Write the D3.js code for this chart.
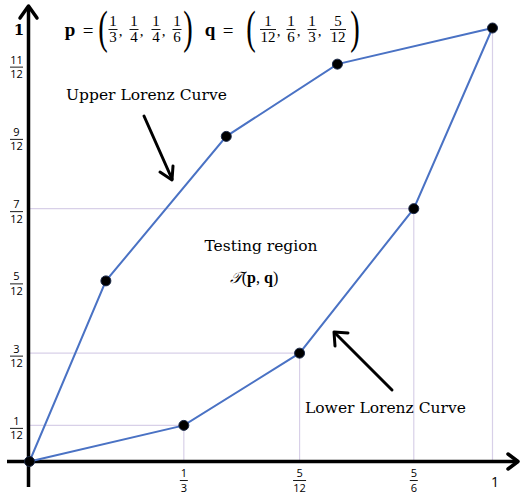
<!DOCTYPE html>
<html><head><meta charset="utf-8">
<script src="https://cdn.jsdelivr.net/npm/d3@7"></script>
<style>
html,body{margin:0;padding:0;background:#fff;}
svg{display:block;}
</style></head>
<body>
<script>
// ---- data ----
const upperX = [0, 0.165, 0.425, 0.665, 1];
const upperY = [0, 5/12, 9/12, 11/12, 1];
const lowerX = [0, 1/3, 7/12, 0.83, 1];
const lowerY = [0, 1/12, 3/12, 7/12, 1];
const xTickValues = [1/3, 7/12, 0.83];
const xTickNums = ["1", "5", "5"];
const xTickDens = ["3", "12", "6"];
const yTickValues = [1/12, 3/12, 5/12, 7/12, 9/12, 11/12];
const yTickNums = ["1", "3", "5", "7", "9", "11"];
const yTickDens = ["12", "12", "12", "12", "12", "12"];
const pNums = ["1","1","1","1"], pDens = ["3","4","4","6"];
const qNums = ["1","1","1","5"], qDens = ["12","6","3","12"];

const W = 520, H = 495;
const svg = d3.select("body").append("svg").attr("width", W).attr("height", H);
const x = d3.scaleLinear().domain([0,1]).range([29.5, 492.5]);
const y = d3.scaleLinear().domain([0,1]).range([461.5, 28]);

const grid = "#d8d0e8";
const blue = "#4a72c4";
const serif = "'DejaVu Serif', serif";
const mserif = "'Liberation Serif', serif";
const sans = "'Open Sans', 'Liberation Sans', sans-serif";

const upper = upperX.map((v,i)=>[v, upperY[i]]);
const lower = lowerX.map((v,i)=>[v, lowerY[i]]);

// gridlines from lower curve points
const g = svg.append("g");
lower.slice(1).forEach((d,i,arr)=>{
  g.append("line").attr("x1", x(d[0])).attr("x2", x(d[0]))
    .attr("y1", y(d[1])).attr("y2", y(0)).attr("stroke", grid).attr("stroke-width", 1.2);
  if (i < arr.length-1) {
    g.append("line").attr("x1", x(0)).attr("x2", x(d[0]))
      .attr("y1", y(d[1])).attr("y2", y(d[1])).attr("stroke", grid).attr("stroke-width", 1.2);
  }
});

// axes
const ax = svg.append("g").attr("stroke", "#000").attr("stroke-width", 3.5).attr("fill", "none")
  .attr("stroke-linecap", "round").attr("stroke-linejoin", "round");
ax.append("line").attr("x1", 7).attr("x2", 518).attr("y1", y(0)).attr("y2", y(0)).attr("stroke-linecap","butt");
ax.append("path").attr("d", `M${508},${y(0)-7.5} L${518},${y(0)} L${508},${y(0)+7.5}`);
ax.append("line").attr("x1", x(0)-1).attr("x2", x(0)-1).attr("y1", 487).attr("y2", 7).attr("stroke-linecap","butt");
ax.append("path").attr("d", `M${x(0)-9.5},${18} L${x(0)-1},${6} L${x(0)+7.5},${18}`);

// curves
const line = d3.line().x(d=>x(d[0])).y(d=>y(d[1]));
svg.append("path").datum(upper).attr("d", line).attr("fill","none").attr("stroke", blue).attr("stroke-width", 2);
svg.append("path").datum(lower).attr("d", line).attr("fill","none").attr("stroke", blue).attr("stroke-width", 2);

const pts = upper.concat(lower.slice(1, lower.length-1));
svg.append("g").selectAll("circle").data(pts).join("circle")
  .attr("cx", d=>x(d[0])).attr("cy", d=>y(d[1])).attr("r", 5)
  .attr("fill", "#000").attr("stroke", "#1c2a4a").attr("stroke-width", 1);

// fraction helper
function frac(gr, cx, barY, num, den, size, font, numOff, denOff, barW) {
  gr.append("text").attr("x", cx).attr("y", barY - numOff).attr("text-anchor","middle")
    .attr("font-family", font).attr("font-size", size).text(num);
  gr.append("text").attr("x", cx).attr("y", barY + denOff).attr("text-anchor","middle")
    .attr("font-family", font).attr("font-size", size).text(den);
  const bw = barW || Math.max(num.length, den.length) * size * 0.58 + 2;
  gr.append("line").attr("x1", cx - bw/2).attr("x2", cx + bw/2).attr("y1", barY).attr("y2", barY)
    .attr("stroke", "#000").attr("stroke-width", 0.9);
}

// y tick labels
const yl = svg.append("g").attr("fill", "#000");
yTickValues.forEach((v,i)=>{
  frac(yl, 16.5, y(v) + 3, yTickNums[i], yTickDens[i], 11, sans, 3.5, 11, 13);
});
yl.append("text").attr("x", 19).attr("y", y(1) + 7).attr("text-anchor","middle")
  .attr("font-family", serif).attr("font-weight","bold").attr("font-size", 15).text("1");

// x tick labels
const xl = svg.append("g");
xTickValues.forEach((v,i)=>{
  frac(xl, x(v), 480.5, xTickNums[i], xTickDens[i], 11, sans, 3.5, 11, xTickDens[i].length > 1 ? 13 : 8);
});
xl.append("text").attr("x", 495).attr("y", 487).attr("text-anchor","middle")
  .attr("font-family", sans).attr("font-size", 14).text("1");

// annotations
svg.append("text").attr("x", 66).attr("y", 100).attr("font-family", serif).attr("font-size", 15.5).text("Upper Lorenz Curve");
svg.append("text").attr("x", 305).attr("y", 413).attr("font-family", serif).attr("font-size", 15.5).text("Lower Lorenz Curve");
svg.append("text").attr("x", 261).attr("y", 251).attr("text-anchor","middle").attr("font-family", serif).attr("font-size", 15.5).text("Testing region");
const tg = svg.append("text").attr("x", 254).attr("y", 283).attr("text-anchor","middle").attr("font-family", mserif).attr("font-size", 16);
tg.append("tspan").attr("font-style","italic").attr("font-family","'DejaVu Serif', serif").text("𝒯");
tg.append("tspan").text("(");
tg.append("tspan").attr("font-weight","bold").text("p");
tg.append("tspan").text(", ");
tg.append("tspan").attr("font-weight","bold").text("q");
tg.append("tspan").text(")");

// arrows
const ar = svg.append("g").attr("stroke", "#000").attr("stroke-width", 3).attr("fill","none")
  .attr("stroke-linecap","round").attr("stroke-linejoin","round");
ar.append("line").attr("x1",144).attr("y1",116).attr("x2",172).attr("y2",179);
ar.append("path").attr("d","M160,172 L172,180 L173,166");
ar.append("line").attr("x1",392).attr("y1",390).attr("x2",335).attr("y2",333);
ar.append("path").attr("d","M335,346 L334,332 L348,333");

// formula
const fm = svg.append("g");
function formula(xs) {
  fm.append("text").attr("x", xs.v).attr("y", 36).attr("font-family", mserif).attr("font-weight","bold")
    .attr("font-size", 19).attr("text-anchor","middle").text(xs.name);
  fm.append("text").attr("x", xs.eq).attr("y", 37).attr("font-family", mserif)
    .attr("font-size", 19).attr("text-anchor","middle").text("=");
  fm.append("text").attr("transform", `translate(${xs.lp},43) scale(0.62,1)`).attr("font-family", mserif)
    .attr("font-size", 46).attr("text-anchor","middle").text("(");
  fm.append("text").attr("transform", `translate(${xs.rp},43) scale(0.62,1)`).attr("font-family", mserif)
    .attr("font-size", 46).attr("text-anchor","middle").text(")");
  xs.fx.forEach((cx,i)=>{
    frac(fm, cx, 29.5, xs.nums[i], xs.dens[i], 15, mserif, 4, 12, xs.dens[i].length>1 ? 16 : 9);
    if (i < xs.fx.length-1) fm.append("text").attr("x", cx + (xs.dens[i].length>1 ? 10.5 : 7.5)).attr("y", 36)
      .attr("font-family", mserif).attr("font-size", 15).attr("text-anchor","middle").text(",");
  });
}
formula({name:"p", v:70, eq:88, lp:103, rp:188, fx:[113,134,156,177], nums:pNums, dens:pDens});
formula({name:"q", v:210, eq:228, lp:251, rp:355, fx:[268,291,312,338], nums:qNums, dens:qDens});
</script>
</body></html>
